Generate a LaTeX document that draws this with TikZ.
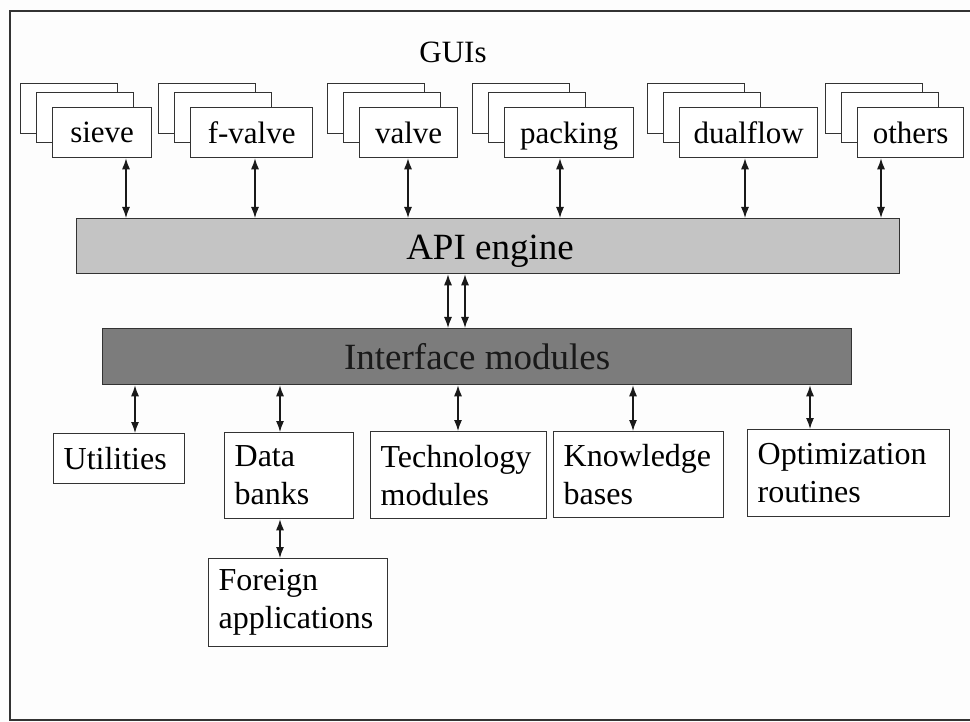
\documentclass[tikz,border=0pt]{standalone}
\usepackage{fontspec}
\setmainfont{Liberation Serif}
\usetikzlibrary{arrows.meta}

\definecolor{inkline}{HTML}{333333}
\definecolor{apifill}{HTML}{C4C4C4}
\definecolor{ifcfill}{HTML}{7C7C7C}
\definecolor{paper}{HTML}{FDFDFD}

\tikzset{
  card/.style={draw=inkline, line width=1.3pt, fill=white, inner sep=0pt,
    minimum height=50pt, anchor=north west},
  guitext/.style={font=\fontsize{31}{36}\selectfont, text depth=0pt},
  bar/.style={draw=inkline, line width=1.3pt, inner sep=0pt, anchor=north west,
    font=\fontsize{37}{42}\selectfont, text=black!90, text depth=0pt},
  leaf/.style={draw=inkline, line width=1.3pt, fill=white, anchor=north west,
    inner xsep=10pt, inner ysep=0pt, align=left,
    font=\fontsize{32}{38}\selectfont},
  dbl/.style={{Latex[length=11pt,width=8pt]}-{Latex[length=11pt,width=8pt]},
    line width=1.2pt, draw=black!90},
}

% one GUI: two blank sheets behind a labelled front sheet
\newcommand{\guistack}[4]{%
  \node[card, minimum width=97pt] (#3-back) at (#1,83) {};
  \node[card, minimum width=97pt] (#3-mid) at (#1+16,92) {};
  \node[card, guitext, minimum width=#2] (#3) at (#1+32,107) {#4};
}

\begin{document}
\begin{tikzpicture}[x=1pt,y=-1pt]
\useasboundingbox (0,0) rectangle (970,722);
\fill[paper] (0,0) rectangle (970,722);
\draw[inkline, line width=2pt] (10,11) rectangle (975,720);

\node[font=\fontsize{31}{36}\selectfont] (guis) at (453,52) {GUIs};

\guistack{20}{99pt}{sieve}{sieve}
\guistack{158}{122pt}{fvalve}{f-valve}
\guistack{327}{98pt}{valve}{valve}
\guistack{472}{129pt}{packing}{packing}
\guistack{647}{138pt}{dualflow}{dualflow}
\guistack{825}{106pt}{others}{others}

\node[bar, fill=apifill, minimum width=823pt, minimum height=55pt] (api) at (76,218) {};
\node[font=\fontsize{37}{42}\selectfont, text depth=0pt, inner sep=0pt] (apilabel) at (490,247) {API engine};

\node[bar, fill=ifcfill, minimum width=749pt, minimum height=56pt] (ifc) at (102,328) {Interface modules};

% lower row of components
\node[leaf, minimum height=50pt, text width=111pt] (util) at (53,433) {Utilities};
\node[leaf, minimum height=86pt, text width=109pt] (data) at (224,432) {Data\\banks};
\node[leaf, minimum height=87pt, text width=156pt] (tech) at (370,431) {Technology\\modules};
\node[leaf, minimum height=86pt, text width=150pt] (know) at (553,431) {Knowledge\\bases};
\node[leaf, minimum height=87pt, text width=182pt] (optim) at (747,429) {Optimization\\routines};
\node[leaf, minimum height=88pt, text width=159pt] (foreign) at (208,558) {Foreign\\applications};

% x positions of the vertical links
\coordinate (g1) at (126,0);
\coordinate (g2) at (255,0);
\coordinate (g3) at (408,0);
\coordinate (g4) at (560,0);
\coordinate (g5) at (745,0);
\coordinate (g6) at (881,0);
\coordinate (m1) at (448,0);
\coordinate (m2) at (465,0);
\coordinate (b1) at (135,0);
\coordinate (b2) at (280,0);
\coordinate (b3) at (458,0);
\coordinate (b4) at (633,0);
\coordinate (b5) at (810,0);

\draw[dbl] (sieve.south -| g1) -- (api.north -| g1);
\draw[dbl] (fvalve.south -| g2) -- (api.north -| g2);
\draw[dbl] (valve.south -| g3) -- (api.north -| g3);
\draw[dbl] (packing.south -| g4) -- (api.north -| g4);
\draw[dbl] (dualflow.south -| g5) -- (api.north -| g5);
\draw[dbl] (others.south -| g6) -- (api.north -| g6);

\draw[dbl] (api.south -| m1) -- (ifc.north -| m1);
\draw[dbl] (api.south -| m2) -- (ifc.north -| m2);

\draw[dbl] (ifc.south -| b1) -- (util.north -| b1);
\draw[dbl] (ifc.south -| b2) -- (data.north -| b2);
\draw[dbl] (ifc.south -| b3) -- (tech.north -| b3);
\draw[dbl] (ifc.south -| b4) -- (know.north -| b4);
\draw[dbl] (ifc.south -| b5) -- (optim.north -| b5);
\draw[dbl] (data.south -| b2) -- (foreign.north -| b2);
\end{tikzpicture}
\end{document}
